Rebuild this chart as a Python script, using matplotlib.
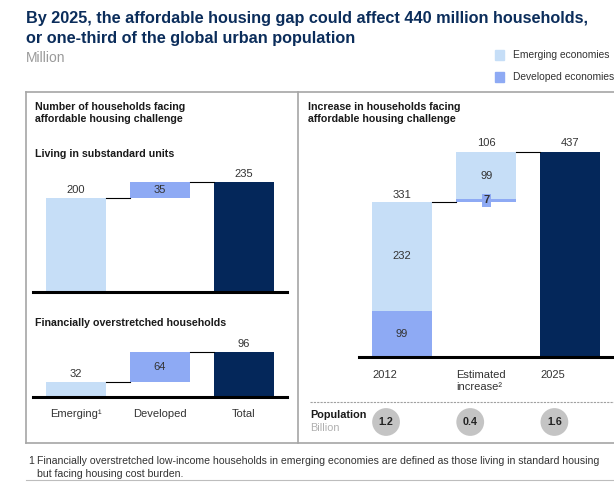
import matplotlib
matplotlib.use("Agg")
import matplotlib.pyplot as plt
from matplotlib.lines import Line2D
from matplotlib.patches import Rectangle

plt.rcParams["font.family"] = ["Liberation Sans", "DejaVu Sans"]

# data (million households)
left_categories = ["Emerging¹", "Developed", "Total"]
substandard = [200, 35]
overstretched = [32, 64]
right_categories = ["2012", "Estimated\nincrease²", "2025"]
base_2012 = {"developed": 99, "emerging": 232}
increase = {"developed": 7, "emerging": 99}
population = [1.2, 0.4, 1.6]  # billion
legend_labels = ["Emerging economies", "Developed economies"]

EMERGING = "#C6DEF7"
DEVELOPED = "#8EAAF4"
TOTAL = "#04275A"
TITLE_C = "#0B2D5B"
TEXT_C = "#333333"
HEAD_C = "#1A1A1A"
GRAY = "#9A9A9A"

W, H = 614, 482
PX = 0.468  # pixels per million
BAR_W = 60 / 84
HEAD_FS = 7.7

fig = plt.figure(figsize=(W / 100, H / 100), dpi=100)


def fx(x):
    return x / W


def fy(y):
    return 1 - y / H


def add_ax(left, top, right, bottom):
    ax = fig.add_axes([fx(left), fy(bottom), (right - left) / W, (bottom - top) / H])
    ax.set_facecolor("none")
    for s in ax.spines.values():
        s.set_visible(False)
    ax.set_xticks([])
    ax.set_yticks([])
    ax.set_ylim(0, (bottom - top) / PX)
    ax.axhline(0, color="black", lw=2.2, clip_on=False, zorder=5)
    return ax


def hline(x0, x1, y, **kw):
    fig.add_artist(Line2D([fx(x0), fx(x1)], [fy(y), fy(y)], **kw))


def vline(x, y0, y1, **kw):
    fig.add_artist(Line2D([fx(x), fx(x)], [fy(y0), fy(y1)], **kw))


def connector(ax, i, level):
    ax.plot([i + BAR_W / 2, i + 1 - BAR_W / 2], [level, level], color="black", lw=0.8)


def top_label(ax, x, y, txt, dy=3):
    ax.annotate(txt, (x, y), xytext=(0, dy), textcoords="offset pixels",
                ha="center", va="bottom", fontsize=8, color=TEXT_C)


def mid_label(ax, x, y, txt, **kw):
    ax.text(x, y, txt, ha="center", va="center", fontsize=8, color=TEXT_C, **kw)


def waterfall_left(ax, vals):
    e, d = vals
    tot = e + d
    ax.bar(0, e, BAR_W, color=EMERGING)
    ax.bar(1, d, BAR_W, bottom=e, color=DEVELOPED)
    ax.bar(2, tot, BAR_W, color=TOTAL)
    connector(ax, 0, e)
    connector(ax, 1, tot)
    top_label(ax, 0, e, str(e))
    mid_label(ax, 1, e + d / 2, str(d))
    top_label(ax, 2, tot, str(tot))
    ax.set_xlim(-43 / 84, 2 + 43 / 84)


# --- box frame
box = dict(color="#A6A6A6", lw=1.2)
hline(26, W, 92, **box)
hline(26, W, 443, **box)
vline(26, 92, 443, **box)
vline(298, 92, 443, **box)
hline(26, W, 480, color="#BDBDBD", lw=0.8)

# --- titles
fig.text(fx(26), fy(23), "By 2025, the affordable housing gap could affect 440 million households,",
         fontsize=11.7, fontweight="bold", color=TITLE_C, va="baseline")
fig.text(fx(26), fy(43), "or one-third of the global urban population",
         fontsize=11.7, fontweight="bold", color=TITLE_C, va="baseline")
fig.text(fx(26), fy(58), "Million", fontsize=10, color=GRAY, va="center")

# legend
for k, (lab, col) in enumerate(zip(legend_labels, [EMERGING, DEVELOPED])):
    yc = 55 + 22 * k
    fig.add_artist(Rectangle((fx(495), fy(yc + 5)), 9 / W, 10 / H, color=col,
                             transform=fig.transFigure))
    fig.text(fx(513), fy(yc), lab, fontsize=7.4, color=TEXT_C, va="center")

# --- left panel
fig.text(fx(35), fy(107), "Number of households facing", fontsize=HEAD_FS,
         fontweight="bold", color=HEAD_C, va="center")
fig.text(fx(35), fy(119), "affordable housing challenge", fontsize=HEAD_FS,
         fontweight="bold", color=HEAD_C, va="center")
fig.text(fx(35), fy(154), "Living in substandard units", fontsize=HEAD_FS,
         fontweight="bold", color=HEAD_C, va="center")
fig.text(fx(35), fy(323), "Financially overstretched households", fontsize=HEAD_FS,
         fontweight="bold", color=HEAD_C, va="center")

ax1 = add_ax(33, 160, 287, 292)
waterfall_left(ax1, substandard)

ax2 = add_ax(33, 335, 287, 397)
waterfall_left(ax2, overstretched)
for i, lab in enumerate(left_categories):
    ax2.annotate(lab, (i, 0), xytext=(0, -17), textcoords="offset pixels",
                 ha="center", va="center", fontsize=8, color=TEXT_C)

# --- right panel
fig.text(fx(308), fy(107), "Increase in households facing", fontsize=HEAD_FS,
         fontweight="bold", color=HEAD_C, va="center")
fig.text(fx(308), fy(119), "affordable housing challenge", fontsize=HEAD_FS,
         fontweight="bold", color=HEAD_C, va="center")

ax3 = add_ax(359, 135, W, 357)
ax3.set_xlim(-43 / 84, 2 + (W - 570.5) / 84)
d12, e12 = base_2012["developed"], base_2012["emerging"]
tot12 = d12 + e12
di, ei = increase["developed"], increase["emerging"]
tot_inc = di + ei
tot25 = tot12 + tot_inc

ax3.bar(0, d12, BAR_W, color=DEVELOPED)
ax3.bar(0, e12, BAR_W, bottom=d12, color=EMERGING)
ax3.bar(1, di, BAR_W, bottom=tot12, color=DEVELOPED)
ax3.bar(1, ei, BAR_W, bottom=tot12 + di, color=EMERGING)
ax3.bar(2, tot25, BAR_W, color=TOTAL)
connector(ax3, 0, tot12)
connector(ax3, 1, tot25)

mid_label(ax3, 0, d12 / 2, str(d12))
mid_label(ax3, 0, d12 + e12 / 2, str(e12))
top_label(ax3, 0, tot12, str(tot12), dy=2)
mid_label(ax3, 1, tot12 + di + ei / 2, str(ei))
mid_label(ax3, 1, tot12 + di / 2, str(di), fontweight="bold",
          bbox=dict(boxstyle="square,pad=0.12", fc=DEVELOPED, ec="none"))
top_label(ax3, 1, tot25, str(tot_inc), dy=4)
top_label(ax3, 2, tot25, str(tot25), dy=4)

for i, lab in enumerate(right_categories):
    ax3.annotate(lab, (i - BAR_W / 2, 0), xytext=(0, -13), textcoords="offset pixels",
                 ha="left", va="top", fontsize=8, color=TEXT_C, linespacing=1.3)

# population row
hline(310, W, 402, color="#A0A0A0", lw=0.8, linestyle=(0, (2, 1)))
fig.text(fx(310), fy(415), "Population", fontsize=7.8, fontweight="bold",
         color=HEAD_C, va="center")
fig.text(fx(310), fy(428), "Billion", fontsize=7.8, color="#B0B0B0", va="center")
circle_y = -(422 - 357) / PX
for i, p in enumerate(population):
    xc = i - 16 / 84
    ax3.scatter([xc], [circle_y], s=400, color="#C4C4C4", clip_on=False, zorder=3,
                edgecolors="none")
    ax3.text(xc, circle_y, f"{p:.1f}", ha="center", va="center", fontsize=7.7,
             fontweight="bold", color="#222222", zorder=4)

# footnote
FOOT_FS = 7.6
fig.text(fx(28), fy(461), "1", fontsize=FOOT_FS, color=TEXT_C, va="center")
fig.text(fx(37), fy(461),
         "Financially overstretched low-income households in emerging economies are defined as those living in standard housing",
         fontsize=FOOT_FS, color=TEXT_C, va="center")
fig.text(fx(37), fy(474), "but facing housing cost burden.", fontsize=FOOT_FS,
         color=TEXT_C, va="center")

fig.savefig("out.png", dpi=100)
